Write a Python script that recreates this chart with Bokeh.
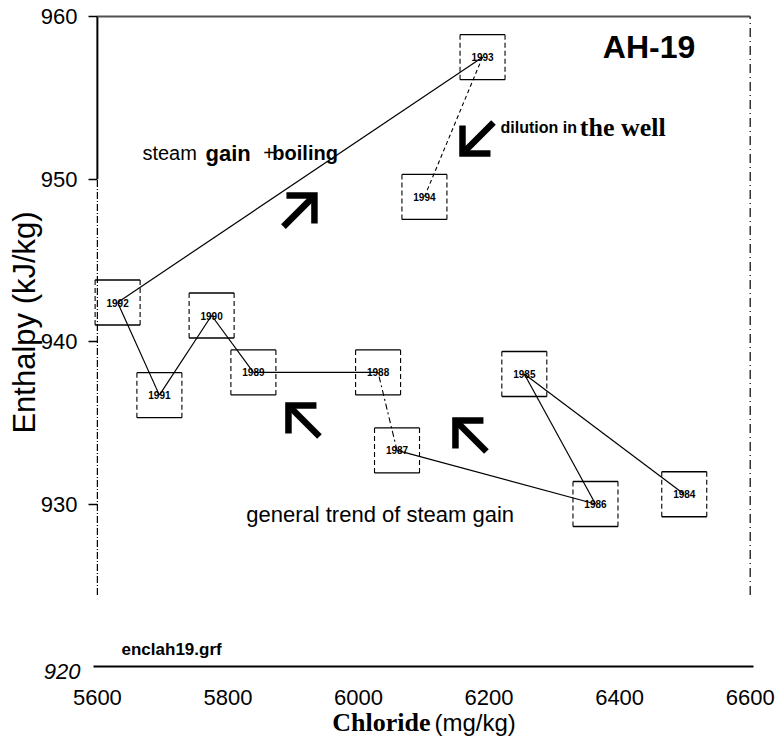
import math
from bokeh.plotting import figure
from bokeh.models import Range1d, FixedTicker, Label
from bokeh.embed import file_html
from bokeh.resources import INLINE

# --- data: well AH-19, yearly samples -------------------------------------
years = ["1984", "1985", "1986", "1987", "1988", "1989",
         "1990", "1991", "1992", "1993", "1994"]
chloride = [6499, 6254, 6363, 6059, 6030, 5839, 5775, 5695, 5631, 6190, 6101]
enthalpy = [930.6, 938.0, 930.0, 933.3, 938.1, 938.1, 941.6, 936.7, 942.4, 957.5, 948.9]

x_ticks = [5600, 5800, 6000, 6200, 6400, 6600]
y_ticks = [930, 940, 950, 960]

# segments drawn dashed (index i joins point i and i+1)
dashed_links = {3: "6 3 2 3", 9: "4 3"}

# trend arrows: tip position (data) and direction (+1 / -1 on each axis)
arrow_tip_x = [5932.5, 6159.3, 5892.7, 6148.5]
arrow_tip_y = [948.98, 951.57, 936.06, 935.14]
arrow_dir_x = [1, -1, -1, -1]
arrow_dir_y = [1, -1, 1, 1]

# --- figure -----------------------------------------------------------------
# the plotting area spans the whole page; the axes are pinned at
# chloride = 5600 and enthalpy = 920 so that margin texts stay in the frame
W, H = 779, 744
X0, X1 = 5451.6, 6644.9
Y0, Y1 = 915.2, 960.985

p = figure(frame_width=W, frame_height=H,
           x_range=Range1d(X0, X1), y_range=Range1d(Y0, Y1),
           min_border=0, min_border_left=0, min_border_right=0,
           min_border_top=0, min_border_bottom=0,
           output_backend="svg", toolbar_location=None,
           background_fill_color="white", border_fill_color="white",
           outline_line_color=None)
p.xgrid.visible = False
p.ygrid.visible = False

sx = W / (X1 - X0)   # px per mg/kg
sy = H / (Y1 - Y0)   # px per kJ/kg

SANS = "Liberation Sans"
SERIF = "Liberation Serif"

# bottom axis
xa = p.xaxis[0]
xa.fixed_location = 920
xa.bounds = (5594, 6605)
xa.ticker = FixedTicker(ticks=x_ticks)
xa.axis_line_width = 2
xa.axis_line_color = "black"
xa.major_tick_out = 0
xa.major_tick_in = 0
xa.major_tick_line_color = None
xa.minor_tick_line_color = None
xa.major_label_standoff = 23
xa.major_label_text_font = SANS
xa.major_label_text_font_size = "22px"
xa.major_label_text_color = "black"

# left axis (its line is drawn below as a partly dashed segment)
ya = p.yaxis[0]
ya.fixed_location = 5600
ya.bounds = (930, 960)
ya.ticker = FixedTicker(ticks=y_ticks)
ya.axis_line_color = None
ya.major_tick_out = 9
ya.major_tick_in = 0
ya.major_tick_line_color = "black"
ya.major_tick_line_width = 1.5
ya.minor_tick_line_color = None
ya.major_label_standoff = 11
ya.major_label_text_font = SANS
ya.major_label_text_font_size = "22px"
ya.major_label_text_color = "black"

# frame edges
p.segment(x0=[5600], y0=[950], x1=[5600], y1=[960], line_color="black", line_width=2)
p.segment(x0=[5600], y0=[924.4], x1=[5600], y1=[950], line_color="black",
          line_width=1.2, line_dash="7 2 1 2")
p.segment(x0=[5600], y0=[960], x1=[6600], y1=[960], line_color="#505050", line_width=2)
p.segment(x0=[6600], y0=[924.4], x1=[6600], y1=[960], line_color="black",
          line_width=1.2, line_dash="9 4 1 4")

# links between consecutive years
sol = dict(x0=[], y0=[], x1=[], y1=[])
for i in range(len(years) - 1):
    if i in dashed_links:
        p.segment(x0=[chloride[i]], y0=[enthalpy[i]], x1=[chloride[i + 1]],
                  y1=[enthalpy[i + 1]], line_color="black", line_width=1.1,
                  line_dash=dashed_links[i])
    else:
        sol["x0"].append(chloride[i]); sol["y0"].append(enthalpy[i])
        sol["x1"].append(chloride[i + 1]); sol["y1"].append(enthalpy[i + 1])
p.segment(**sol, line_color="black", line_width=1.2)

# boxes around each year label
hw = 22.5 / sx
hh = 22.5 / sy
xl = [c - hw for c in chloride]
xr = [c + hw for c in chloride]
yt = [e + hh for e in enthalpy]
yb = [e - hh for e in enthalpy]
p.segment(x0=xl, y0=yt, x1=xr, y1=yt, line_color="black", line_width=1.4)
p.segment(x0=xl, y0=yb, x1=xr, y1=yb, line_color="black", line_width=1.4)
p.segment(x0=xl, y0=yb, x1=xl, y1=yt, line_color="black", line_width=1.1, line_dash="5 3")
p.segment(x0=xr, y0=yb, x1=xr, y1=yt, line_color="black", line_width=1.1, line_dash="5 3")

for yr, c, e in zip(years, chloride, enthalpy):
    p.add_layout(Label(x=c, y=e, text=yr, text_font=SANS, text_font_style="bold",
                       text_font_size="10px", text_color="black",
                       text_align="center", text_baseline="middle"))

# heavy chevron arrows
SHAFT, ARM = 31, 28
shafts_x, shafts_y, heads_x, heads_y = [], [], [], []
for tx, ty, dx, dy in zip(arrow_tip_x, arrow_tip_y, arrow_dir_x, arrow_dir_y):
    shafts_x.append([tx - dx * SHAFT / sx, tx - dx * 3 / sx])
    shafts_y.append([ty - dy * SHAFT / sy, ty - dy * 3 / sy])
    heads_x.append([tx - dx * ARM / sx, tx, tx])
    heads_y.append([ty, ty, ty - dy * ARM / sy])
p.multi_line(xs=shafts_x, ys=shafts_y, line_color="black", line_width=6.5, line_cap="butt")
p.multi_line(xs=heads_x, ys=heads_y, line_color="black", line_width=6.5,
             line_cap="butt", line_join="miter")


def add_text(x, y, text, size, font=SANS, style="normal", align="left", angle=0.0):
    p.add_layout(Label(x=x, y=y, text=text, text_font=font, text_font_style=style,
                       text_font_size=size, text_color="black", text_align=align,
                       text_baseline="middle", angle=angle))


add_text(6445, 958.1, "AH-19", "32px", style="bold", align="center")
add_text(5669, 951.6, "steam", "20px")
add_text(5765.6, 951.6, "gain", "22px", style="bold")
add_text(5854, 951.6, "+", "20px")
add_text(5868, 951.6, "boiling", "20px", style="bold")
add_text(6217.5, 953.2, "dilution in", "16px", style="bold")
add_text(6339, 953.2, "the well", "26px", font=SERIF, style="bold")
add_text(5828, 929.35, "general trend of steam gain", "22px")
add_text(5637, 921.05, "enclah19.grf", "17px", style="bold")

# margin texts
add_text(5574.1, 919.69, "920", "22px", style="italic", align="right")
add_text(5488.3, 941.17, "Enthalpy (kJ/kg)", "31px", align="center", angle=math.pi / 2)
add_text(6110.3, 916.55, "Chloride", "26px", font=SERIF, style="bold", align="right")
add_text(6116.4, 916.55, "(mg/kg)", "24px")

open("out.html", "w").write(file_html(p, INLINE))
